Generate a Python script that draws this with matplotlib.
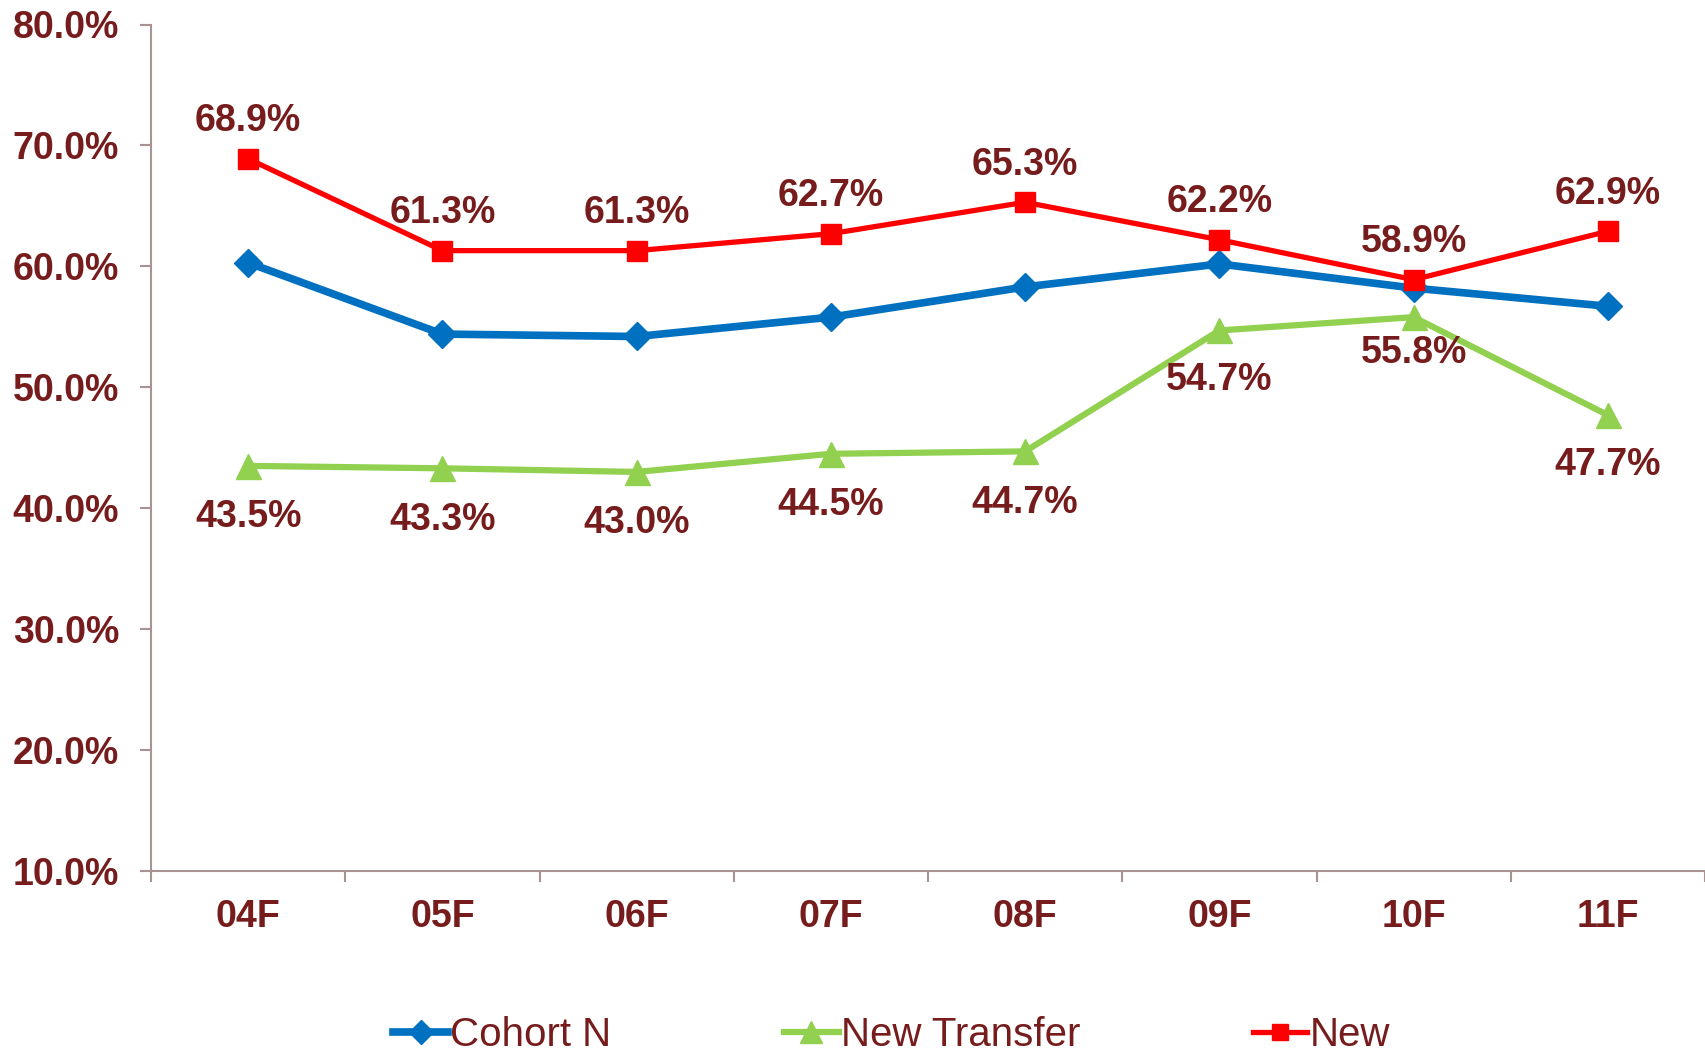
import matplotlib
matplotlib.use("Agg")
import matplotlib.pyplot as plt
from matplotlib.ticker import FixedLocator, FuncFormatter

categories = ["04F", "05F", "06F", "07F", "08F", "09F", "10F", "11F"]
cohort_n = [60.3, 54.4, 54.2, 55.8, 58.3, 60.2, 58.2, 56.7]
new_transfer = [43.5, 43.3, 43.0, 44.5, 44.7, 54.7, 55.8, 47.7]
new = [68.9, 61.3, 61.3, 62.7, 65.3, 62.2, 58.9, 62.9]
y_ticks = [10, 20, 30, 40, 50, 60, 70, 80]

TXT = "#771C1C"
SPINE = "#A89292"
plt.rcParams['font.family'] = ['Liberation Sans', 'DejaVu Sans']

fig = plt.figure(figsize=(17.05, 10.51), dpi=100)
ax = fig.add_axes([151/1705, 1 - 871/1051, 1 - 151/1705, (871 - 24.5)/1051])

x = list(range(len(categories)))
l1, = ax.plot(x, cohort_n, color="#0070C0", lw=5.5, marker="D", ms=14, label="Cohort N", zorder=3)
l2, = ax.plot(x, new_transfer, color="#92D050", lw=4.5, marker="^", ms=18, label="New Transfer", zorder=3)
l3, = ax.plot(x, new, color="#FF0000", lw=3.8, marker="s", ms=14, label="New", zorder=4)

red_off = [27] * len(new)
for i, v in enumerate(new):
    ax.annotate(f"{v:.1f}%", (i, v), xytext=(0, red_off[i]), textcoords="offset points",
                ha="center", va="center", fontsize=27, fontweight="bold", color=TXT)
green_off = [-37, -37, -37, -37, -37, -36, -26, -36]
for i, v in enumerate(new_transfer):
    ax.annotate(f"{v:.1f}%", (i, v), xytext=(0, green_off[i]), textcoords="offset points",
                ha="center", va="center", fontsize=27, fontweight="bold", color=TXT)

ax.set_xlim(-0.5, len(categories) - 0.5)
ax.set_ylim(10, 80)
ax.set_yticks(y_ticks)
ax.yaxis.set_major_formatter(FuncFormatter(lambda v, p: f"{v:.1f}%"))
ax.set_xticks(x)
ax.set_xticklabels(categories)
ax.xaxis.set_minor_locator(FixedLocator([i - 0.5 for i in range(len(categories) + 1)]))
ax.tick_params(axis="x", which="major", length=0, pad=20, labelsize=27, labelcolor=TXT)
ax.tick_params(axis="x", which="minor", length=8, width=1.5, color=SPINE, direction="out")
ax.tick_params(axis="y", which="major", length=8, width=1.5, color=SPINE, pad=15,
               labelsize=27, labelcolor=TXT)
for lab in ax.get_xticklabels() + ax.get_yticklabels():
    lab.set_fontweight("bold")
for s in ["top", "right"]:
    ax.spines[s].set_visible(False)
for s in ["left", "bottom"]:
    ax.spines[s].set_color(SPINE)
    ax.spines[s].set_linewidth(1.5)
for l in (l1, l2, l3):
    l.set_clip_on(False)

leg = fig.legend(handles=[l1, l2, l3], loc="center", bbox_to_anchor=(0.523, 1 - 1035/1051),
                 ncol=3, frameon=False, fontsize=29, handlelength=1.35, handletextpad=0.05,
                 columnspacing=4.3, markerscale=0.85)
for t in leg.get_texts():
    t.set_color(TXT)

fig.savefig("out.png", dpi=100)
